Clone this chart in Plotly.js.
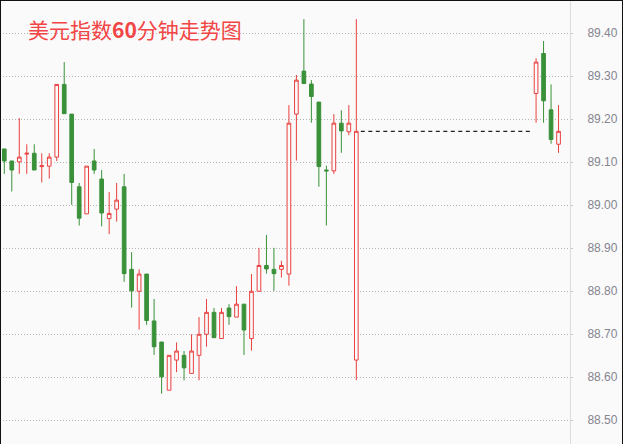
<!DOCTYPE html>
<html>
<head>
<meta charset="utf-8">
<script src="https://cdn.plot.ly/plotly-3.0.1.min.js"></script>
<style>
  html, body { margin: 0; padding: 0; background: #fafafa; }
  #wrap { position: relative; width: 623px; height: 444px; }
  #plot { width: 623px; height: 444px; }
  #frame { position: absolute; left: 0; top: 0; width: 623px; height: 444px;
           border-top: 1px solid #111; border-left: 1px solid #111; border-right: 1px solid #111;
           box-sizing: border-box; pointer-events: none; }
</style>
</head>
<body>
<div id="wrap">
  <div id="plot"></div>
  <div id="frame"></div>
</div>
<script>
// slot index of each hourly bar (there is a gap with no bars)
const slots = [
  0, 1, 2, 3, 4, 5, 6, 7, 8, 9, 10, 11, 12, 13, 14, 15, 16, 17, 18, 19, 20, 21, 22, 23,
  24, 25, 26, 27, 28, 29, 30, 31, 32, 33, 34, 35, 36, 37, 38, 39, 40, 41, 42, 43, 44, 45, 46, 47,
  71, 72, 73, 74
]
const openVals = [
  89.131, 89.103, 89.101, 89.119, 89.121, 89.090, 89.091, 89.112, 89.281, 89.212, 89.043, 88.980,
  89.103, 89.061, 88.969, 88.991, 89.043, 88.851, 88.800, 88.840, 88.731, 88.682, 88.570, 88.640,
  88.651, 88.609, 88.651, 88.700, 88.751, 88.690, 88.761, 88.740, 88.770, 88.690, 88.800, 88.860,
  88.851, 88.851, 88.840, 89.212, 89.312, 89.282, 89.240, 89.082, 89.080, 89.191, 89.171, 88.640,
  89.260, 89.353, 89.222, 89.142
]
const highVals = [
  89.131, 89.103, 89.203, 89.142, 89.142, 89.121, 89.121, 89.281, 89.333, 89.212, 89.052, 89.091,
  89.131, 89.082, 89.031, 89.052, 89.073, 88.891, 88.851, 88.840, 88.782, 88.682, 88.651, 88.681,
  88.661, 88.700, 88.740, 88.782, 88.761, 88.761, 88.770, 88.812, 88.770, 88.840, 88.901, 88.931,
  88.901, 88.871, 89.233, 89.303, 89.433, 89.291, 89.240, 89.092, 89.212, 89.221, 89.233, 89.433,
  89.342, 89.382, 89.281, 89.233
]
const lowVals = [
  89.073, 89.032, 89.073, 89.073, 89.082, 89.053, 89.062, 89.103, 89.213, 89.001, 88.953, 88.980,
  89.073, 88.951, 88.933, 88.962, 88.822, 88.762, 88.711, 88.722, 88.652, 88.562, 88.570, 88.612,
  88.593, 88.609, 88.593, 88.671, 88.692, 88.690, 88.722, 88.740, 88.652, 88.662, 88.800, 88.841,
  88.801, 88.832, 88.813, 89.104, 89.283, 89.192, 89.043, 88.953, 89.073, 89.122, 89.163, 88.593,
  89.192, 89.192, 89.143, 89.122
]
const closeVals = [
  89.103, 89.082, 89.112, 89.121, 89.082, 89.092, 89.112, 89.281, 89.213, 89.053, 88.970, 89.091,
  89.082, 88.982, 88.981, 89.012, 88.841, 88.801, 88.840, 88.732, 88.671, 88.601, 88.651, 88.661,
  88.622, 88.661, 88.700, 88.751, 88.692, 88.751, 88.741, 88.770, 88.710, 88.800, 88.860, 88.852,
  88.841, 88.860, 89.191, 89.291, 89.283, 89.253, 89.090, 89.080, 89.191, 89.173, 89.191, 89.172,
  89.333, 89.243, 89.153, 89.172
]
const yTicks = [88.5, 88.6, 88.7, 88.8, 88.9, 89.0, 89.1, 89.2, 89.3, 89.4]
const titleText = '美元指数<b>60</b>分钟走势图'

const bg = '#fafafa'
const upColor = '#e8403f'
const downColor = '#3a9139'

// dashed reference line at the close of the bar before the gap
const gapStart = slots[47]
const gapEnd = slots[48]
const refClose = closeVals[47]

const candles = {
  type: 'candlestick',
  x: slots,
  open: openVals,
  high: highVals,
  low: lowVals,
  close: closeVals,
  whiskerwidth: 0,
  increasing: { line: { color: upColor, width: 1 }, fillcolor: bg },
  decreasing: { line: { color: downColor, width: 1 }, fillcolor: downColor },
  hoverinfo: 'none',
  showlegend: false
}

const refLine = {
  type: 'scatter',
  mode: 'lines',
  x: [gapStart + 0.6, gapEnd - 0.7],
  y: [refClose, refClose],
  line: { color: '#222', width: 1.2, dash: '4px,3.5px' },
  hoverinfo: 'none',
  showlegend: false
}

const layout = {
  width: 623,
  height: 444,
  margin: { l: 0, r: 53, t: 0, b: 0 },
  paper_bgcolor: bg,
  plot_bgcolor: bg,
  showlegend: false,
  title: {
    text: titleText,
    xref: 'container', yref: 'container',
    x: 28 / 623, y: 1 - 31 / 444,
    xanchor: 'left', yanchor: 'middle',
    font: { family: '"Noto Sans CJK SC", "Noto Sans", sans-serif', size: 21, color: '#f24545' }
  },
  xaxis: {
    range: [-0.574, 75.53],
    showgrid: false,
    zeroline: false,
    showticklabels: false,
    showline: false,
    rangeslider: { visible: false },
    fixedrange: true
  },
  yaxis: {
    side: 'right',
    range: [88.4448, 89.4774],
    tickvals: yTicks,
    ticktext: yTicks.map(v => v.toFixed(2)),
    showgrid: true,
    gridcolor: '#b4b4b4',
    griddash: '1px,2px',
    gridwidth: 1,
    zeroline: false,
    showline: true,
    linecolor: '#dcdcdc',
    linewidth: 1,
    ticks: 'outside',
    ticklen: 2,
    tickcolor: '#c8c8c8',
    ticklabelstandoff: 12,
    tickfont: { family: '"Liberation Sans", Arial, sans-serif', size: 12, color: '#858590' },
    fixedrange: true
  }
}

Plotly.newPlot('plot', [candles, refLine], layout, { displayModeBar: false, staticPlot: true })
</script>
</body>
</html>
